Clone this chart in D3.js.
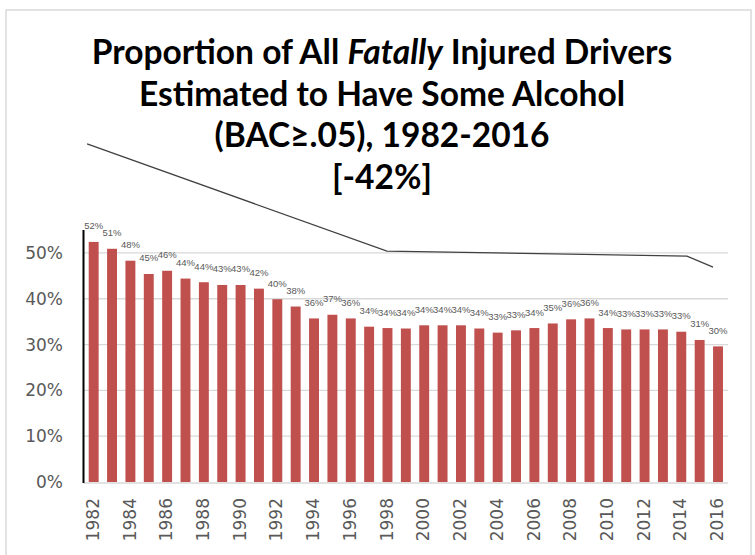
<!DOCTYPE html>
<html>
<head>
<meta charset="utf-8">
<script src="https://cdn.jsdelivr.net/npm/d3@7"></script>
<style>
  body { margin: 0; background: #fff; }
  svg { display: block; }
</style>
</head>
<body>
<svg width="755" height="555"></svg>
<script>
const years = d3.range(1982, 2017);
const shares = [52.4, 50.9, 48.3, 45.4, 46.1, 44.4, 43.6, 43.0, 43.0, 42.2,
  39.9, 38.3, 35.7, 36.5, 35.7, 33.9, 33.6, 33.5, 34.2, 34.2,
  34.2, 33.5, 32.6, 33.1, 33.6, 34.6, 35.5, 35.7, 33.6, 33.3,
  33.3, 33.3, 32.8, 31.0, 29.6];
const yTicks = [0, 10, 20, 30, 40, 50];
const titleLines = [
  ['Proportion of All ', 'Fatally', ' Injured Drivers'],
  ['Estimated to Have Some Alcohol'],
  ['(BAC\u2265.05), 1982-2016'],
  ['[-42%]'],
];
// stray drawn line above the bars (year, share)
const strayYears = [1981.64, 1997.97, 2014.31, 2015.73];
const strayShares = [73.8, 50.4, 49.3, 46.9];

const svg = d3.select('svg');

svg.append('rect')
  .attr('x', 6).attr('y', 10)
  .attr('width', 745).attr('height', 560)
  .attr('fill', 'none')
  .attr('stroke', '#d9d9d9')
  .attr('stroke-width', 1.5);

const x = d3.scaleBand()
  .domain(years)
  .range([84.5, 727.2])
  .paddingInner(0.46)
  .paddingOuter(0.23);

const y = d3.scaleLinear()
  .domain([0, 55])
  .range([482, 230]);

const xc = d => x(d) + x.bandwidth() / 2;
const xYear = d3.scaleLinear()
  .domain([1982, 2016])
  .range([xc(1982), xc(2016)]);

// gridlines
svg.append('g')
  .selectAll('line')
  .data(yTicks.filter(d => d > 0))
  .join('line')
  .attr('x1', 84).attr('x2', 728)
  .attr('y1', d => y(d)).attr('y2', d => y(d))
  .attr('stroke', '#d9d9d9')
  .attr('stroke-width', 1.3);

// y tick labels
svg.append('g')
  .selectAll('text')
  .data(yTicks)
  .join('text')
  .attr('x', 63)
  .attr('y', d => y(d))
  .attr('dy', '0.36em')
  .attr('text-anchor', 'end')
  .attr('font-family', 'DejaVu Sans, sans-serif')
  .attr('font-size', 17)
  .attr('fill', '#595959')
  .text(d => d + '%');

// bars
svg.append('g')
  .selectAll('rect')
  .data(years)
  .join('rect')
  .attr('x', d => x(d))
  .attr('y', (d, i) => y(shares[i]))
  .attr('width', x.bandwidth())
  .attr('height', (d, i) => y(0) - y(shares[i]))
  .attr('fill', '#c0504d');

// bottom axis line
svg.append('line')
  .attr('x1', 84).attr('x2', 728)
  .attr('y1', y(0) + 1).attr('y2', y(0) + 1)
  .attr('stroke', '#d9d9d9')
  .attr('stroke-width', 1.5);

// left axis line
svg.append('line')
  .attr('x1', 83.5).attr('x2', 83.5)
  .attr('y1', y(55)).attr('y2', y(0) + 1)
  .attr('stroke', '#000')
  .attr('stroke-width', 2);

// data labels
svg.append('g')
  .selectAll('text')
  .data(years)
  .join('text')
  .attr('x', d => xc(d))
  .attr('y', (d, i) => y(shares[i]) - 12.5)
  .attr('text-anchor', 'middle')
  .attr('font-family', 'Liberation Sans, Arial, sans-serif')
  .attr('font-size', 9.5)
  .attr('fill', '#595959')
  .text((d, i) => Math.round(shares[i]) + '%');

// x tick labels, every other year
svg.append('g')
  .selectAll('text')
  .data(years.filter(d => (d - 1982) % 2 === 0))
  .join('text')
  .attr('transform', d => `translate(${xc(d) - 1},498) rotate(-90)`)
  .attr('dy', '0.36em')
  .attr('text-anchor', 'end')
  .attr('font-family', 'DejaVu Sans, sans-serif')
  .attr('font-size', 17)
  .attr('fill', '#595959')
  .text(d => d);

// stray line
const line = d3.line()
  .x(d => xYear(d[0]))
  .y(d => y(d[1]));
svg.append('path')
  .attr('d', line(strayYears.map((d, i) => [d, strayShares[i]])))
  .attr('fill', 'none')
  .attr('stroke', '#404040')
  .attr('stroke-width', 1.2);

// title
const title = svg.append('g')
  .attr('font-family', 'Lato, sans-serif')
  .attr('font-weight', 'bold')
  .attr('font-size', 33.5)
  .attr('fill', '#000');
titleLines.forEach((parts, i) => {
  const t = title.append('text')
    .attr('x', 382)
    .attr('y', 64 + i * 41.5)
    .attr('text-anchor', 'middle');
  parts.forEach(p => {
    t.append('tspan')
      .attr('font-style', p === 'Fatally' ? 'italic' : null)
      .text(p);
  });
});
</script>
</body>
</html>
